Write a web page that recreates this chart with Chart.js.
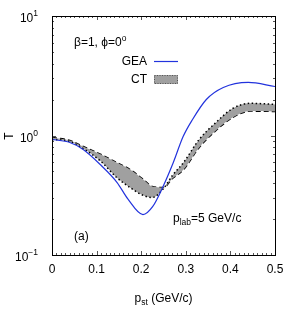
<!DOCTYPE html>
<html>
<head>
<meta charset="utf-8">
<script src="https://cdn.jsdelivr.net/npm/chart.js@4/dist/chart.umd.min.js"></script>
<style>
  body { margin: 0; background: #fff; }
  #wrap { width: 300px; height: 315px; position: relative; }
</style>
</head>
<body>
<div id="wrap"><canvas id="chart"></canvas></div>
<script>
// GEA curve
const geaP = [0, 0.04, 0.07, 0.108, 0.146, 0.17, 0.204, 0.226, 0.249, 0.272, 0.294, 0.315, 0.346, 0.384, 0.44, 0.5];
const geaT = [0.926, 0.874, 0.764, 0.572, 0.404, 0.295, 0.218, 0.255, 0.374, 0.594, 0.98, 1.36, 2.0, 2.52, 2.78, 2.57];

// CT band: dashed and dotted edges
const ctP = [0, 0.04, 0.07, 0.11, 0.145, 0.175, 0.205, 0.225, 0.25, 0.27, 0.295, 0.33, 0.37, 0.405, 0.445, 0.5];
const ctDash = [0.962, 0.908, 0.809, 0.693, 0.594, 0.519, 0.428, 0.374, 0.367, 0.437, 0.519, 0.794, 1.122, 1.414, 1.60, 1.59];
const ctDot = [0.926, 0.891, 0.778, 0.606, 0.445, 0.367, 0.315, 0.303, 0.360, 0.463, 0.594, 0.926, 1.310, 1.682, 1.86, 1.82];

const xTicks = [0, 0.1, 0.2, 0.3, 0.4, 0.5];
const yTicks = [0.1, 1, 10];
const yExp = ['\u22121', '0', '1'];

const FONT = '"Liberation Sans", Arial, sans-serif';
const BLUE = '#2233dd';
const GREY = '#a0a0a0';

function pts(xs, ys) {
    return xs.map((x, i) => ({ x: x, y: ys[i] }));
}

// draw text pieces with sub/superscripts
function rich(ctx, parts, x, y, align) {
    let w = 0;
    parts.forEach(p => {
        ctx.font = p.size + 'px ' + FONT;
        w += ctx.measureText(p.t).width;
    });
    let cx = align === 'right' ? x - w : (align === 'center' ? x - w / 2 : x);
    ctx.textBaseline = 'middle';
    ctx.textAlign = 'left';
    parts.forEach(p => {
        ctx.font = p.size + 'px ' + FONT;
        ctx.fillText(p.t, cx, y + (p.dy || 0));
        cx += ctx.measureText(p.t).width;
    });
}

const framePlugin = {
    id: 'frame',
    afterDraw(chart) {
        const ctx = chart.ctx;
        const a = chart.chartArea;
        const xs = chart.scales.x, ys = chart.scales.y;
        ctx.save();
        ctx.fillStyle = '#000';
        ctx.strokeStyle = '#000';
        ctx.lineWidth = 1;

        // ticks
        ctx.strokeStyle = '#555';
        ctx.beginPath();
        for (let i = 0; i <= 50; i++) {
            const v = i / 100;
            const px = Math.round(xs.getPixelForValue(v)) + 0.5;
            const len = i % 10 === 0 ? 4 : 2;
            ctx.moveTo(px, a.bottom); ctx.lineTo(px, a.bottom - len);
            ctx.moveTo(px, a.top); ctx.lineTo(px, a.top + len);
        }
        [0.1, 1].forEach(dec => {
            for (let k = 1; k <= 10; k++) {
                const v = dec * k;
                const py = Math.round(ys.getPixelForValue(v)) + 0.5;
                const len = (k === 1 || k === 10) ? 4 : 2;
                ctx.moveTo(a.left, py); ctx.lineTo(a.left + len, py);
                ctx.moveTo(a.right, py); ctx.lineTo(a.right - len, py);
            }
        });
        ctx.stroke();

        // frame
        ctx.strokeStyle = '#000';
        ctx.strokeRect(Math.round(a.left) + 0.5, Math.round(a.top) + 0.5,
            Math.round(a.right - a.left), Math.round(a.bottom - a.top));

        // x tick labels
        ctx.font = '12px ' + FONT;
        ctx.textAlign = 'center';
        ctx.textBaseline = 'middle';
        xTicks.forEach(v => {
            ctx.fillText(String(v), xs.getPixelForValue(v), a.bottom + 15);
        });

        // y tick labels 10^n
        yTicks.forEach((v, i) => {
            const py = ys.getPixelForValue(v);
            rich(ctx, [
                { t: '10', size: 12, dy: 3 },
                { t: yExp[i], size: 8.5, dy: -2 }
            ], 38, py, 'right');
        });

        // axis titles
        rich(ctx, [
            { t: 'p', size: 12, dy: 0 },
            { t: 'st', size: 8.5, dy: 4 },
            { t: ' (GeV/c)', size: 12, dy: 0 }
        ], (a.left + a.right) / 2, 299, 'center');

        ctx.save();
        ctx.translate(10, 136);
        ctx.rotate(-Math.PI / 2);
        ctx.font = '12px ' + FONT;
        ctx.textAlign = 'center';
        ctx.textBaseline = 'middle';
        ctx.fillText('T', 0, 0);
        ctx.restore();

        // annotations
        rich(ctx, [
            { t: '\u03b2=1, \u03d5=0', size: 12, dy: 0 },
            { t: 'o', size: 8.5, dy: -4 }
        ], 74, 43, 'left');
        rich(ctx, [
            { t: 'p', size: 12, dy: 0 },
            { t: 'lab', size: 8.5, dy: 4 },
            { t: '=5 GeV/c', size: 12, dy: 0 }
        ], 173, 219, 'left');
        rich(ctx, [{ t: '(a)', size: 12, dy: 0 }], 74, 237, 'left');

        // legend
        rich(ctx, [{ t: 'GEA', size: 12, dy: 0 }], 147, 62, 'right');
        rich(ctx, [{ t: 'CT', size: 12, dy: 0 }], 147, 80, 'right');
        ctx.strokeStyle = BLUE;
        ctx.lineWidth = 1.2;
        ctx.beginPath();
        ctx.moveTo(154, 61.5); ctx.lineTo(178, 61.5);
        ctx.stroke();
        ctx.fillStyle = GREY;
        ctx.fillRect(154, 75, 24, 9);
        ctx.strokeStyle = '#555';
        ctx.lineWidth = 1;
        ctx.setLineDash([1, 1.5]);
        ctx.strokeRect(154.5, 75.5, 23, 8);
        ctx.restore();
    }
};

new Chart(document.getElementById('chart'), {
    type: 'line',
    data: {
        datasets: [
            {
                label: 'GEA',
                data: pts(geaP, geaT),
                borderColor: BLUE,
                borderWidth: 1.2,
                pointRadius: 0,
                fill: false,
                cubicInterpolationMode: 'monotone'
            },
            {
                label: 'CT',
                data: pts(ctP, ctDot),
                borderColor: '#000',
                borderWidth: 1.5,
                borderDash: [1.5, 2.5],
                backgroundColor: GREY,
                pointRadius: 0,
                fill: '+1',
                cubicInterpolationMode: 'monotone'
            },
            {
                label: 'CT dashed',
                data: pts(ctP, ctDash),
                borderColor: '#000',
                borderWidth: 1.5,
                borderDash: [5, 3],
                pointRadius: 0,
                fill: false,
                cubicInterpolationMode: 'monotone'
            }
        ]
    },
    options: {
        responsive: true,
        maintainAspectRatio: false,
        animation: false,
        layout: { padding: { left: 52, right: 25, top: 16, bottom: 60 } },
        plugins: { legend: { display: false }, tooltip: { enabled: false } },
        scales: {
            x: { type: 'linear', min: 0, max: 0.5, display: false },
            y: { type: 'logarithmic', min: 0.1, max: 10, display: false }
        }
    },
    plugins: [framePlugin]
});
</script>
</body>
</html>
